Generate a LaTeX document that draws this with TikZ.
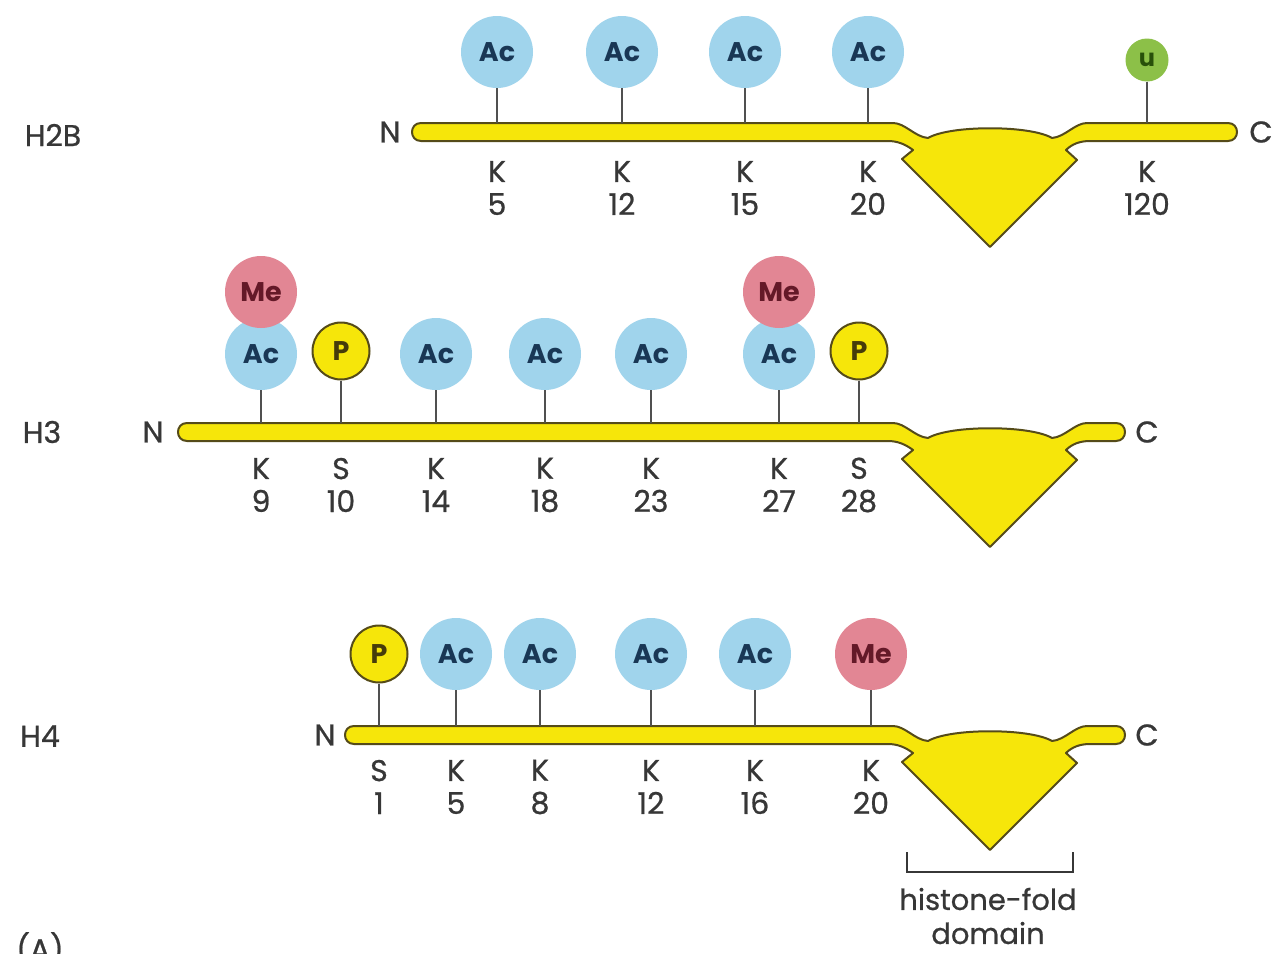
\documentclass[tikz,border=0pt]{standalone}
\usepackage{fontspec}
\setmainfont{Poppins}
\newfontfamily\medfont{Poppins}[FakeBold=0.7]
\definecolor{acblue}{RGB}{160,212,236}
\definecolor{acnavy}{RGB}{25,55,85}
\definecolor{mepink}{RGB}{226,134,148}
\definecolor{merose}{RGB}{100,25,40}
\definecolor{pyellow}{RGB}{246,230,10}
\definecolor{pdark}{RGB}{70,60,10}
\definecolor{outline}{RGB}{85,75,25}
\definecolor{ugreen}{RGB}{140,192,72}
\definecolor{udark}{RGB}{40,80,10}
\definecolor{labelgray}{RGB}{55,55,55}
\definecolor{stemgray}{RGB}{80,80,80}
\newcommand\histchain[3]{%
  \filldraw[chain]
    (#2+9,#1-9) -- (893,#1-9)
    .. controls (905,#1-9) and (915,#1+5) .. (928,#1+6)
    .. controls (950,#1-7) and (1030,#1-7) .. (1052,#1+6)
    .. controls (1065,#1+5) and (1075,#1-9) .. (1087,#1-9)
    -- (#3-9,#1-9)
    .. controls (#3+3,#1-9) and (#3+3,#1+9) .. (#3-9,#1+9)
    -- (1090,#1+9)
    .. controls (1080,#1+9) and (1072,#1+12) .. (1066,#1+18)
    -- (1077,#1+28) -- (990,#1+115) -- (902,#1+27) -- (913,#1+18)
    .. controls (905,#1+12) and (897,#1+9) .. (888,#1+9)
    -- (#2+9,#1+9)
    .. controls (#2-3,#1+9) and (#2-3,#1-9) .. (#2+9,#1-9) -- cycle;}
\begin{document}
\begin{tikzpicture}[x=1pt,y=-1pt,
  lbl/.style={font=\medfont\fontsize{30}{33}\selectfont, text=labelgray, align=center, inner sep=0pt},
  rowlbl/.style={font=\medfont\fontsize{30}{33}\selectfont, text=labelgray, inner sep=0pt},
  acbox/.style={circle, fill=acblue, minimum size=72pt, inner sep=0pt, font=\fontsize{27}{27}\selectfont\bfseries, text=acnavy},
  mebox/.style={circle, fill=mepink, minimum size=72pt, inner sep=0pt, font=\fontsize{27}{27}\selectfont\bfseries, text=merose},
  pbox/.style={circle, fill=pyellow, draw=outline, line width=2pt, minimum size=57pt, inner sep=0pt, font=\fontsize{27}{27}\selectfont\bfseries, text=pdark},
  ubox/.style={circle, fill=ugreen, minimum size=43pt, inner sep=0pt, font=\fontsize{24}{24}\selectfont\bfseries, text=udark},
  stem/.style={draw=stemgray, line width=2pt},
  chain/.style={fill=pyellow, draw=outline, line width=2pt, line join=round},
]
\fill[white] (0,0) rectangle (1274,953);
\useasboundingbox (0,0) rectangle (1274,953);

% ---------------- H2B ----------------
\histchain{132}{412}{1237}
\node[rowlbl] (h2b) at (53,135) {H2B};
\node[rowlbl] (h2bN) at (390,132) {N};
\node[rowlbl] (h2bC) at (1261,132) {C};
\foreach \x/\n in {497/a, 622/b, 745/c, 868/d}{
  \coordinate (h2bt\n) at (\x,123);
  \node[acbox] (h2bc\n) at (\x,52) {Ac};
  \draw[stem] (h2bc\n.south) -- (h2bt\n);
}
\coordinate (h2bte) at (1147,123);
\node[ubox] (h2bce) at (1147,60) {u};
\draw[stem] (h2bce.south) -- (h2bte);
\node[lbl] (h2bla) at (497,188) {K\\5};
\node[lbl] (h2blb) at (622,188) {K\\12};
\node[lbl] (h2blc) at (745,188) {K\\15};
\node[lbl] (h2bld) at (868,188) {K\\20};
\node[lbl] (h2ble) at (1147,188) {K\\120};

% ---------------- H3 ----------------
\histchain{432}{178}{1125}
\node[rowlbl] (h3) at (42,432) {H3};
\node[rowlbl] (h3N) at (153,432) {N};
\node[rowlbl] (h3C) at (1147,432) {C};
\foreach \x/\n in {261/a, 436/c, 545/d, 651/e, 779/f}{
  \coordinate (h3t\n) at (\x,423);
  \node[acbox] (h3c\n) at (\x,354) {Ac};
  \draw[stem] (h3c\n.south) -- (h3t\n);
}
\node[mebox] (h3ma) at (261,292) {Me};
\node[mebox] (h3mf) at (779,292) {Me};
\foreach \x/\n in {341/b, 859/g}{
  \coordinate (h3t\n) at (\x,423);
  \node[pbox] (h3c\n) at (\x,351) {P};
  \draw[stem] (h3c\n.south) -- (h3t\n);
}
\node[lbl] (h3la) at (261,485) {K\\9};
\node[lbl] (h3lb) at (341,485) {S\\10};
\node[lbl] (h3lc) at (436,485) {K\\14};
\node[lbl] (h3ld) at (545,485) {K\\18};
\node[lbl] (h3le) at (651,485) {K\\23};
\node[lbl] (h3lf) at (779,485) {K\\27};
\node[lbl] (h3lg) at (859,485) {S\\28};

% ---------------- H4 ----------------
\histchain{735}{345}{1125}
\node[rowlbl] (h4) at (40,736) {H4};
\node[rowlbl] (h4N) at (325,735) {N};
\node[rowlbl] (h4C) at (1147,735) {C};
\coordinate (h4ta) at (379,726);
\node[pbox] (h4ca) at (379,654) {P};
\draw[stem] (h4ca.south) -- (h4ta);
\foreach \x/\n in {456/b, 540/c, 651/d, 755/e}{
  \coordinate (h4t\n) at (\x,726);
  \node[acbox] (h4c\n) at (\x,654) {Ac};
  \draw[stem] (h4c\n.south) -- (h4t\n);
}
\coordinate (h4tf) at (871,726);
\node[mebox] (h4cf) at (871,654) {Me};
\draw[stem] (h4cf.south) -- (h4tf);
\node[lbl] (h4la) at (379,787) {S\\1};
\node[lbl] (h4lb) at (456,787) {K\\5};
\node[lbl] (h4lc) at (540,787) {K\\8};
\node[lbl] (h4ld) at (651,787) {K\\12};
\node[lbl] (h4le) at (755,787) {K\\16};
\node[lbl] (h4lf) at (871,787) {K\\20};

% ---------------- bracket ----------------
\coordinate (brL) at (907,852);
\coordinate (brR) at (1073,852);
\draw[draw=labelgray, line width=2pt] (brL) -- (907,872) -- (1073,872) -- (brR);
\node[lbl, font=\medfont\fontsize{29}{34}\selectfont] (hfd) at (988,916) {histone-fold\\domain};
\node[rowlbl, anchor=north] (pA) at (40,932) {(A)};
\end{tikzpicture}
\end{document}
